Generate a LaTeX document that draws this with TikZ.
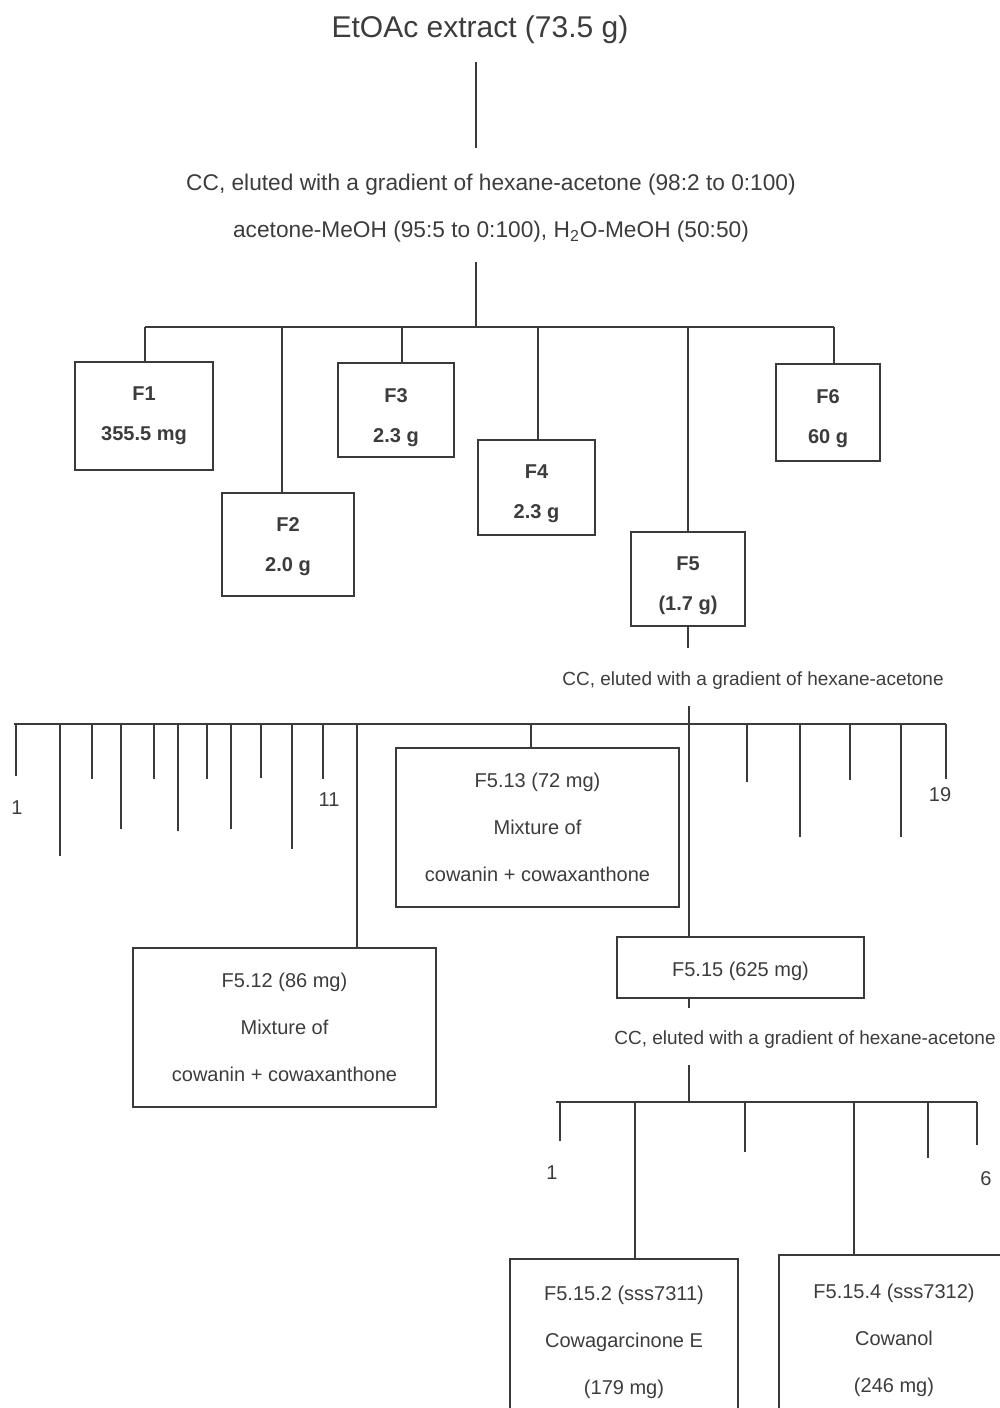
\documentclass[tikz,border=0pt]{standalone}
\usepackage{fontspec}
\setmainfont{Liberation Sans}
\usetikzlibrary{positioning}
\definecolor{lineGray}{HTML}{3A3A3A}
\definecolor{textGray}{HTML}{3C3C3C}

\begin{document}
\begin{tikzpicture}[x=0.5pt, y=-0.5pt,
  link/.style={draw=lineGray, line width=1pt},
  frac/.style={draw=lineGray, line width=1pt, text=textGray, align=center,
    inner sep=0pt, font=\fontsize{10}{20}\selectfont\bfseries},
  subfrac/.style={draw=lineGray, line width=1pt, text=textGray, align=center,
    inner sep=0pt, font=\fontsize{10}{23.5}\selectfont},
  nudge/.style={text height=#1},
  elution/.style={text=textGray, inner sep=0pt, font=\fontsize{11.35}{13}\selectfont},
  elutionsmall/.style={text=textGray, inner sep=0pt, font=\fontsize{9.5}{12}\selectfont},
  ticklabel/.style={text=textGray, inner sep=0pt, font=\fontsize{10}{12}\selectfont}
]
  % page frame
  \useasboundingbox (0,0) rectangle (1000,1408);
  \clip (0,0) rectangle (1000,1408);

  % crude extract and first column
  \node[text=textGray, font=\fontsize{15}{18}\selectfont] (extract) at (480,30) {EtOAc extract (73.5 g)};
  \coordinate (s1top) at (476,62);
  \coordinate (s1bot) at (476,148);
  \draw[link] (s1top) -- (s1bot);
  \node[elution] (cc1a) at (491,185) {CC, eluted with a gradient of hexane-acetone (98:2 to 0:100)};
  \node[elution] (cc1b) at (491,232) {acetone-MeOH (95:5 to 0:100), H\textsubscript{2}O-MeOH (50:50)};
  \coordinate (s2top) at (476,262);
  \coordinate (bus1) at (476,327);
  \draw[link] (s2top) -- (bus1);

  % fractions F1--F6
  \node[frac, minimum width=69pt, minimum height=54pt] (F1) at (144,416) {F1\\355.5 mg};
  \node[frac, nudge=29.2pt, minimum width=66pt, minimum height=51.5pt] (F2) at (288,544.5) {F2\\2.0 g};
  \node[frac, nudge=34.2pt, minimum width=58pt, minimum height=47pt] (F3) at (396,410) {F3\\2.3 g};
  \node[frac, nudge=33.2pt, minimum width=58.5pt, minimum height=47.5pt] (F4) at (536.5,487.5) {F4\\2.3 g};
  \node[frac, nudge=33.2pt, minimum width=57pt, minimum height=47pt] (F5) at (688,579) {F5\\(1.7 g)};
  \node[frac, nudge=33.2pt, minimum width=52pt, minimum height=48.5pt] (F6) at (828,412.5) {F6\\60 g};

  \draw[link] ([xshift=0.5pt]F1.north |- bus1) -- ([xshift=3pt]F6.north |- bus1);
  \draw[link] ([xshift=0.5pt]F1.north) -- ([xshift=0.5pt]F1.north |- bus1);
  \draw[link] ([xshift=-3pt]F2.north) -- ([xshift=-3pt]F2.north |- bus1);
  \draw[link] ([xshift=3pt]F3.north) -- ([xshift=3pt]F3.north |- bus1);
  \draw[link] ([xshift=0.75pt]F4.north) -- ([xshift=0.75pt]F4.north |- bus1);
  \draw[link] (F5.north) -- (F5.north |- bus1);
  \draw[link] ([xshift=3pt]F6.north) -- ([xshift=3pt]F6.north |- bus1);

  % second column on F5
  \coordinate (s3bot) at (688,648);
  \draw[link] (F5.south) -- (s3bot);
  \node[elutionsmall] (cc2) at (753,681) {CC, eluted with a gradient of hexane-acetone};
  \coordinate (s4top) at (689,706);
  \coordinate (bus2L) at (14,724);
  \coordinate (bus2R) at (946,724);
  \draw[link] (bus2L) -- (bus2R);
  \foreach \x/\y [count=\n] in {16/776, 60/856, 92/779, 121/829, 154/779, 178/831,
      207/779, 231/829, 261/778, 292/849, 323/779, 747/782, 800/837, 850/780,
      901/837, 946/779}
    \draw[link] (\x,724) coordinate (ta\n) -- (\x,\y) coordinate (tb\n);
  \node[ticklabel] (lab1) at (17,808) {1};
  \node[ticklabel] (lab11) at (329,800) {11};
  \node[ticklabel] (lab19) at (940,795) {19};

  \node[subfrac, minimum width=141.5pt, minimum height=79.5pt] (F513) at (537.5,827.5)
    {F5.13 (72 mg)\\Mixture of\\cowanin + cowaxanthone};
  \node[subfrac, minimum width=151.5pt, minimum height=79.5pt] (F512) at (284.5,1027.5)
    {F5.12 (86 mg)\\Mixture of\\cowanin + cowaxanthone};
  \node[subfrac, nudge=11.3pt, minimum width=123.5pt, minimum height=30.5pt] (F515) at (740.5,967.5)
    {F5.15 (625 mg)};

  \coordinate (t12) at (357,724);
  \coordinate (t13) at (531,724);
  \draw[link] (t12) -- (t12 |- F512.north);
  \draw[link] (t13) -- (t13 |- F513.north);
  \draw[link] (s4top) -- (s4top |- F515.north);

  % third column on F5.15
  \coordinate (s5bot) at (689,1008);
  \draw[link] (s5bot |- F515.south) -- (s5bot);
  \node[elutionsmall] (cc3) at (805,1040) {CC, eluted with a gradient of hexane-acetone};
  \coordinate (s6top) at (689,1065);
  \coordinate (bus3) at (689,1102);
  \draw[link] (s6top) -- (bus3);
  \coordinate (bus3L) at (556,1102);
  \coordinate (bus3R) at (977,1102);
  \draw[link] (bus3L) -- (bus3R);
  \foreach \x/\y [count=\n] in {560/1141, 745/1152, 928/1158, 977/1145}
    \draw[link] (\x,1102) coordinate (tc\n) -- (\x,\y) coordinate (td\n);
  \node[ticklabel] (lab3a) at (552,1173) {1};
  \node[ticklabel] (lab3b) at (986,1179) {6};

  \node[subfrac, minimum width=114pt, minimum height=83pt] (F5152) at (624,1342)
    {F5.15.2 (sss7311)\\Cowagarcinone E\\(179 mg)};
  \node[subfrac, minimum width=115.5pt, minimum height=85pt] (F5154) at (894,1340)
    {F5.15.4 (sss7312)\\Cowanol\\(246 mg)};
  \coordinate (t2) at (635,1102);
  \coordinate (t4) at (854,1102);
  \draw[link] (t2) -- (t2 |- F5152.north);
  \draw[link] (t4) -- (t4 |- F5154.north);
\end{tikzpicture}
\end{document}
